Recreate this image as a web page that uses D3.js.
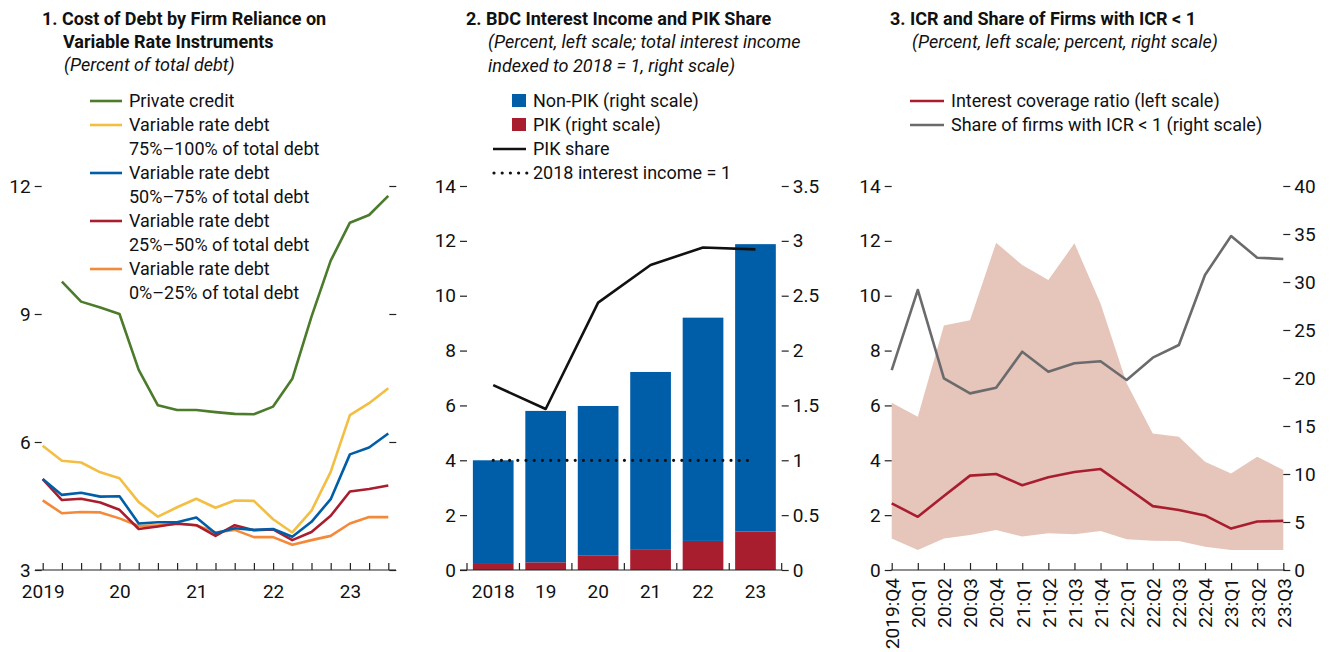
<!DOCTYPE html>
<html>
<head>
<meta charset="utf-8">
<script src="https://cdn.jsdelivr.net/npm/d3@7"></script>
<style>
  body { margin: 0; background: #fff; }
  svg text { font-family: "Liberation Sans Narrow", "Arial Narrow", "Roboto", sans-serif; fill: #111; }
  .title { font-weight: bold; font-size: 18px; }
  .sub { font-style: italic; font-size: 18px; }
  .leg { font-size: 18px; }
  .tick text { font-size: 19px; }
  .tick line { stroke: #222; stroke-width: 1.2; }
</style>
</head>
<body>
<div id="chart"></div>
<script>
var W = 1330, H = 652;

// ---- panel 1 data: cost of debt, percent ----
var quarters1 = ["2019:Q1","2019:Q2","2019:Q3","2019:Q4","2020:Q1","2020:Q2","2020:Q3","2020:Q4",
  "2021:Q1","2021:Q2","2021:Q3","2021:Q4","2022:Q1","2022:Q2","2022:Q3","2022:Q4","2023:Q1","2023:Q2","2023:Q3"];
var privateCredit = [null, 9.76, 9.29, 9.15, 9.0, 7.69, 6.86, 6.75, 6.75, 6.70, 6.66, 6.65, 6.83, 7.48, 8.94, 10.25, 11.14, 11.32, 11.77];
var vr75to100 = [5.91, 5.56, 5.52, 5.29, 5.15, 4.59, 4.25, 4.47, 4.67, 4.46, 4.63, 4.62, 4.19, 3.88, 4.39, 5.30, 6.63, 6.91, 7.26];
var vr50to75 = [5.13, 4.76, 4.81, 4.72, 4.73, 4.09, 4.12, 4.12, 4.23, 3.86, 3.98, 3.94, 3.96, 3.78, 4.13, 4.66, 5.71, 5.87, 6.20];
var vr25to50 = [5.13, 4.64, 4.67, 4.58, 4.41, 3.96, 4.02, 4.09, 4.05, 3.80, 4.05, 3.93, 3.95, 3.70, 3.89, 4.27, 4.84, 4.90, 4.98];
var vr0to25 = [4.63, 4.33, 4.36, 4.35, 4.21, 4.03, 4.05, 4.08, 4.05, 3.88, 3.94, 3.77, 3.77, 3.59, 3.70, 3.80, 4.09, 4.24, 4.24];
var ticks1 = [3, 6, 9, 12];

// ---- panel 2 data: BDC interest income (index, right) and PIK share (percent, left) ----
var years2 = ["2018", "19", "20", "21", "22", "23"];
var pikIncome = [0.055, 0.07, 0.13, 0.19, 0.265, 0.35];
var nonPikIncome = [0.945, 1.38, 1.365, 1.615, 2.035, 2.62];
var pikShare = [6.74, 5.87, 9.75, 11.12, 11.76, 11.69];
var baseIncome = 1;
var ticks2L = [0, 2, 4, 6, 8, 10, 12, 14];
var ticks2R = [0, 0.5, 1, 1.5, 2, 2.5, 3, 3.5];

// ---- panel 3 data: ICR (left) and share of firms with ICR < 1 (right) ----
var quarters3 = ["2019:Q4","20:Q1","20:Q2","20:Q3","20:Q4","21:Q1","21:Q2","21:Q3","21:Q4",
  "22:Q1","22:Q2","22:Q3","22:Q4","23:Q1","23:Q2","23:Q3"];
var icr = [2.43, 1.94, 2.70, 3.44, 3.50, 3.09, 3.38, 3.57, 3.68, 3.01, 2.33, 2.19, 1.99, 1.51, 1.77, 1.79];
var icrHigh = [6.10, 5.59, 8.91, 9.11, 11.93, 11.12, 10.57, 11.91, 9.72, 6.81, 4.98, 4.86, 3.95, 3.52, 4.13, 3.65];
var icrLow = [1.15, 0.73, 1.15, 1.28, 1.46, 1.22, 1.34, 1.30, 1.42, 1.12, 1.07, 1.06, 0.85, 0.73, 0.73, 0.73];
var shareBelow1 = [20.83, 29.17, 19.97, 18.40, 18.99, 22.74, 20.66, 21.53, 21.74, 19.79, 22.12, 23.44, 30.73, 34.79, 32.53, 32.40];
var ticks3L = [0, 2, 4, 6, 8, 10, 12, 14];
var ticks3R = [0, 5, 10, 15, 20, 25, 30, 35, 40];

var C = {
  green: "#4b7b2b", yellow: "#f3be44", blue: "#005ea8", red: "#a91e2f",
  orange: "#f5893a", gray: "#6b6b6d", band: "#e6c5bb", black: "#111"
};

var svg = d3.select("#chart").append("svg").attr("width", W).attr("height", H);

function titles(g, x, lines) {
  lines.forEach(function(l) {
    g.append("text").attr("class", l.cls).attr("x", x + (l.dx || 0)).attr("y", l.y).text(l.t);
  });
}

function leftAxis(g, scale, x, ticks, fmt) {
  var a = g.append("g").attr("transform", "translate(" + x + ",0)")
    .call(d3.axisLeft(scale).tickValues(ticks).tickSize(7).tickPadding(4).tickFormat(fmt || d3.format("")));
  a.select(".domain").remove();
  return a;
}
function rightAxis(g, scale, x, ticks, fmt) {
  var a = g.append("g").attr("transform", "translate(" + x + ",0)")
    .call(d3.axisRight(scale).tickValues(ticks).tickSize(7).tickPadding(4).tickFormat(fmt || d3.format("")));
  a.select(".domain").remove();
  return a;
}

var plotTop = 186, plotBottom = 570;

// ================= Panel 1 =================
(function() {
  var g = svg.append("g");
  titles(g, 42, [
    {cls: "title", y: 25, t: "1. Cost of Debt by Firm Reliance on"},
    {cls: "title", y: 48, dx: 21, t: "Variable Rate Instruments"},
    {cls: "sub", y: 71, dx: 22, t: "(Percent of total debt)"}
  ]);

  var x = d3.scalePoint().domain(quarters1).range([42.7, 388.3]);
  var y = d3.scaleLinear().domain([3, 12]).range([plotBottom, plotTop]);

  leftAxis(g, y, 42.7 - 1, ticks1);
  rightAxis(g, y, 388.3 + 1, ticks1, function() { return ""; });

  var xa = g.append("g").attr("transform", "translate(0," + plotBottom + ")")
    .call(d3.axisBottom(x).tickSizeInner(-7).tickSizeOuter(0).tickPadding(15)
      .tickFormat(function(d) {
        if (d.slice(5) !== "Q1") return "";
        return d === "2019:Q1" ? "2019" : d.slice(2, 4);
      }));
  xa.select(".domain").remove();
  xa.selectAll(".tick text").attr("dy", "0.71em");
  g.append("line").attr("x1", 35).attr("x2", 396).attr("y1", plotBottom).attr("y2", plotBottom)
    .attr("stroke", "#222").attr("stroke-width", 1.2);

  var series = [
    {v: vr0to25, c: C.orange},
    {v: vr25to50, c: C.red},
    {v: vr50to75, c: C.blue},
    {v: vr75to100, c: C.yellow},
    {v: privateCredit, c: C.green}
  ];
  var line = d3.line()
    .defined(function(d) { return d != null; })
    .x(function(d, i) { return x(quarters1[i]); })
    .y(function(d) { return y(d); });
  series.forEach(function(s) {
    g.append("path").attr("d", line(s.v)).attr("fill", "none")
      .attr("stroke", s.c).attr("stroke-width", 2.6).attr("stroke-linejoin", "round");
  });

  var leg = [
    {c: C.green, t: ["Private credit"]},
    {c: C.yellow, t: ["Variable rate debt", "75%\u2013100% of total debt"]},
    {c: C.blue, t: ["Variable rate debt", "50%\u201375% of total debt"]},
    {c: C.red, t: ["Variable rate debt", "25%\u201350% of total debt"]},
    {c: C.orange, t: ["Variable rate debt", "0%\u201325% of total debt"]}
  ];
  var by = 107;
  leg.forEach(function(l) {
    g.append("line").attr("x1", 90).attr("x2", 122).attr("y1", by - 6).attr("y2", by - 6)
      .attr("stroke", l.c).attr("stroke-width", 2.6);
    l.t.forEach(function(t) {
      g.append("text").attr("class", "leg").attr("x", 129).attr("y", by).text(t);
      by += 24;
    });
  });
})();

// ================= Panel 2 =================
(function() {
  var g = svg.append("g");
  titles(g, 466, [
    {cls: "title", y: 25, t: "2. BDC Interest Income and PIK Share"},
    {cls: "sub", y: 48, dx: 22, t: "(Percent, left scale; total interest income"},
    {cls: "sub", y: 72, dx: 22, t: "indexed to 2018 = 1, right scale)"}
  ]);

  var x = d3.scaleBand().domain(years2).range([467, 781.7]).paddingInner(0.224).paddingOuter(0.112);
  var yL = d3.scaleLinear().domain([0, 14]).range([plotBottom, plotTop]);
  var yR = d3.scaleLinear().domain([0, 3.5]).range([plotBottom, plotTop]);

  leftAxis(g, yL, 467, ticks2L);
  rightAxis(g, yR, 781.7, ticks2R, function(d) { return d3.format("")(d); });

  // stacked bars on the right scale
  var rows = years2.map(function(yr, i) { return {yr: yr, pik: pikIncome[i], nonpik: nonPikIncome[i]}; });
  var stack = d3.stack().keys(["pik", "nonpik"])(rows);
  var colors = {pik: C.red, nonpik: C.blue};
  stack.forEach(function(layer) {
    g.selectAll(null).data(layer).enter().append("rect")
      .attr("x", function(d) { return x(d.data.yr); })
      .attr("width", x.bandwidth())
      .attr("y", function(d) { return yR(d[1]); })
      .attr("height", function(d) { return yR(d[0]) - yR(d[1]); })
      .attr("fill", colors[layer.key]);
  });

  // x axis: ticks between the bars, labels under the bars
  var xa = g.append("g").attr("transform", "translate(0," + plotBottom + ")")
    .call(d3.axisBottom(x).tickSize(0).tickPadding(15));
  xa.select(".domain").remove();
  xa.selectAll(".tick text").attr("dy", "0.71em");
  var bounds = d3.range(years2.length + 1).map(function(i) { return x.range()[0] + i * x.step(); });
  g.selectAll(null).data(bounds).enter().append("line")
    .attr("x1", function(d) { return d; }).attr("x2", function(d) { return d; })
    .attr("y1", plotBottom).attr("y2", plotBottom - 7).attr("stroke", "#222").attr("stroke-width", 1.2);
  g.append("line").attr("x1", 460).attr("x2", 782).attr("y1", plotBottom).attr("y2", plotBottom)
    .attr("stroke", "#222").attr("stroke-width", 1.2);

  var cx = function(d, i) { return x(years2[i]) + x.bandwidth() / 2; };
  g.append("path")
    .attr("d", d3.line().x(function(d, i) { return cx(d, i); }).y(function(d) { return yR(d); })(years2.map(function() { return baseIncome; })))
    .attr("fill", "none").attr("stroke", C.black).attr("stroke-width", 3.2)
    .attr("stroke-linecap", "round").attr("stroke-dasharray", "0,8.2");
  g.append("path")
    .attr("d", d3.line().x(cx).y(function(d) { return yL(d); })(pikShare))
    .attr("fill", "none").attr("stroke", C.black).attr("stroke-width", 2.6).attr("stroke-linejoin", "round");

  // legend
  g.append("rect").attr("x", 512).attr("y", 94).attr("width", 14).attr("height", 13).attr("fill", C.blue);
  g.append("text").attr("class", "leg").attr("x", 533).attr("y", 107).text("Non-PIK (right scale)");
  g.append("rect").attr("x", 512).attr("y", 118).attr("width", 14).attr("height", 13).attr("fill", C.red);
  g.append("text").attr("class", "leg").attr("x", 533).attr("y", 131).text("PIK (right scale)");
  g.append("line").attr("x1", 493).attr("x2", 526).attr("y1", 149).attr("y2", 149)
    .attr("stroke", C.black).attr("stroke-width", 2.6);
  g.append("text").attr("class", "leg").attr("x", 533).attr("y", 155).text("PIK share");
  g.append("line").attr("x1", 494).attr("x2", 527).attr("y1", 173).attr("y2", 173)
    .attr("stroke", C.black).attr("stroke-width", 3.2).attr("stroke-linecap", "round").attr("stroke-dasharray", "0,8.2");
  g.append("text").attr("class", "leg").attr("x", 533).attr("y", 179).text("2018 interest income = 1");
})();

// ================= Panel 3 =================
(function() {
  var g = svg.append("g");
  titles(g, 890, [
    {cls: "title", y: 25, t: "3. ICR and Share of Firms with ICR < 1"},
    {cls: "sub", y: 48, dx: 22, t: "(Percent, left scale; percent, right scale)"}
  ]);

  var x = d3.scalePoint().domain(quarters3).range([891.7, 1283.3]);
  var yL = d3.scaleLinear().domain([0, 14]).range([plotBottom, plotTop]);
  var yR = d3.scaleLinear().domain([0, 40]).range([plotBottom, plotTop]);

  g.append("path")
    .attr("d", d3.area()
      .x(function(d, i) { return x(quarters3[i]); })
      .y0(function(d, i) { return yL(icrLow[i]); })
      .y1(function(d) { return yL(d); })(icrHigh))
    .attr("fill", C.band);

  leftAxis(g, yL, 891.7, ticks3L);
  rightAxis(g, yR, 1283.3, ticks3R);

  var xa = g.append("g").attr("transform", "translate(0," + plotBottom + ")")
    .call(d3.axisBottom(x).tickSizeInner(-7).tickSizeOuter(0).tickPadding(0));
  xa.select(".domain").remove();
  xa.selectAll(".tick text")
    .attr("transform", "rotate(-90)")
    .attr("text-anchor", "end")
    .attr("x", -8).attr("y", 0).attr("dy", "0.36em");
  g.append("line").attr("x1", 890.7).attr("x2", 1285).attr("y1", plotBottom).attr("y2", plotBottom)
    .attr("stroke", "#222").attr("stroke-width", 1.2);

  g.append("path")
    .attr("d", d3.line().x(function(d, i) { return x(quarters3[i]); }).y(function(d) { return yR(d); })(shareBelow1))
    .attr("fill", "none").attr("stroke", C.gray).attr("stroke-width", 2.6).attr("stroke-linejoin", "round");
  g.append("path")
    .attr("d", d3.line().x(function(d, i) { return x(quarters3[i]); }).y(function(d) { return yL(d); })(icr))
    .attr("fill", "none").attr("stroke", C.red).attr("stroke-width", 2.6).attr("stroke-linejoin", "round");

  g.append("line").attr("x1", 910).attr("x2", 944).attr("y1", 101).attr("y2", 101)
    .attr("stroke", C.red).attr("stroke-width", 2.6);
  g.append("text").attr("class", "leg").attr("x", 951).attr("y", 107).text("Interest coverage ratio (left scale)");
  g.append("line").attr("x1", 910).attr("x2", 944).attr("y1", 125).attr("y2", 125)
    .attr("stroke", C.gray).attr("stroke-width", 2.6);
  g.append("text").attr("class", "leg").attr("x", 951).attr("y", 131).text("Share of firms with ICR < 1 (right scale)");
})();
</script>
</body>
</html>
